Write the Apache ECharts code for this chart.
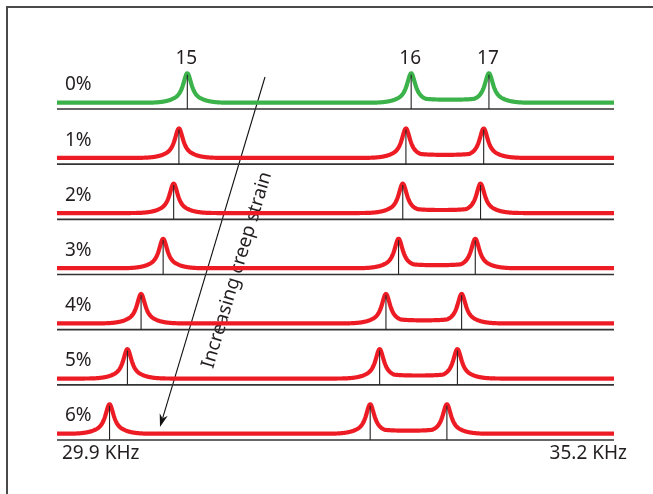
<!DOCTYPE html>
<html>
<head>
<meta charset="utf-8">
<script src="https://cdn.jsdelivr.net/npm/echarts@6/dist/echarts.min.js"></script>
<style>html,body{margin:0;padding:0;background:#fff;}#c{width:653px;height:494px;}</style>
</head>
<body>
<div id="c"></div>
<script>
// ---- data ----
const strainLabels = ['0%', '1%', '2%', '3%', '4%', '5%', '6%'];
const peak15 = [31.14, 31.06, 31.01, 30.91, 30.70, 30.57, 30.40];   // kHz
const peak16 = [33.27, 33.22, 33.19, 33.15, 33.03, 32.97, 32.88];
const peak17 = [34.01, 33.96, 33.93, 33.88, 33.75, 33.71, 33.61];
const modeLabels = ['15', '16', '17'];
const freqMin = 29.9, freqMax = 35.2;
const axisLabels = ['29.9 KHz', '35.2 KHz'];
const arrowText = 'Increasing creep strain';

const FONT = '19px "Noto Sans"';
const TXT = '#231f20';

function renderItem(params, api) {
  const row = api.value(0);
  const f = [api.value(1), api.value(2), api.value(3)];
  const L = api.coord([freqMin, row]);
  const R = api.coord([freqMax, row]);
  const by = L[1];
  const px = f.map(v => api.coord([v, row])[0]);
  const A = 28.5, g = 5.2, lift = 6.3, plat = 3;
  const sig = t => 1 / (1 + Math.exp(-t));
  const prof = d => g * g / (d * d + g * g) * Math.exp(-Math.pow(d / 30, 4));
  const pts = [];
  for (let x = L[0]; x <= R[0] + 0.01; x += 0.5) {
    let o = 0;
    for (const p of px) o += A * prof(x - p);
    o = Math.max(o, plat * sig((x - px[1] - 4) / 1.5) * sig((px[2] - 4 - x) / 1.5)) + 0.3 * Math.min(o, plat);
    pts.push([x, by - lift - o]);
  }
  const color = row === 0 ? '#3cb34a' : '#ed1c24';
  const children = [
    { type: 'line', shape: { x1: L[0], y1: by, x2: R[0], y2: by }, style: { stroke: '#333', lineWidth: 1.6 } },
    { type: 'polyline', shape: { points: pts, smooth: 0 }, style: { stroke: color, lineWidth: 4.2, fill: null, lineJoin: 'round', lineCap: 'butt' } }
  ];
  px.forEach(p => {
    children.push({ type: 'line', shape: { x1: p, y1: by, x2: p, y2: by - lift - A + 0.5 }, style: { stroke: '#222', lineWidth: 1.1 } });
  });
  children.push({ type: 'text', x: L[0] + 8, y: by - 24,
    style: { text: strainLabels[row], font: FONT, fill: TXT, align: 'left', verticalAlign: 'middle', textAlign: 'left', textVerticalAlign: 'middle' } });
  if (row === 0) {
    px.forEach((p, i) => children.push({ type: 'text', x: p - 1, y: by - 50,
      style: { text: modeLabels[i], font: FONT, fill: TXT, align: 'center', verticalAlign: 'middle', textAlign: 'center', textVerticalAlign: 'middle' } }));
  }
  if (row === strainLabels.length - 1) {
    children.push({ type: 'text', x: L[0] + 5, y: by + 14,
      style: { text: axisLabels[0], font: FONT, fill: TXT, align: 'left', verticalAlign: 'middle', textAlign: 'left', textVerticalAlign: 'middle' } });
    children.push({ type: 'text', x: R[0] + 13, y: by + 14,
      style: { text: axisLabels[1], font: FONT, fill: TXT, align: 'right', verticalAlign: 'middle', textAlign: 'right', textVerticalAlign: 'middle' } });
  }
  return { type: 'group', children };
}

// arrow annotation geometry
const a0 = [265, 77], a1 = [160, 427];
const dx = a1[0] - a0[0], dy = a1[1] - a0[1], len = Math.hypot(dx, dy);
const ux = dx / len, uy = dy / len, nx = -uy, ny = ux;
const hl = 13, hw = 4.2;
const head = [
  a1,
  [a1[0] - hl * ux + hw * nx, a1[1] - hl * uy + hw * ny],
  [a1[0] - 9 * ux, a1[1] - 9 * uy],
  [a1[0] - hl * ux - hw * nx, a1[1] - hl * uy - hw * ny]
];

const chart = echarts.init(document.getElementById('c'), null, { renderer: 'canvas' });
chart.setOption({
  animation: false,
  backgroundColor: '#fff',
  grid: { left: 57, right: 39, top: 109, bottom: 54 },
  xAxis: { type: 'value', min: freqMin, max: freqMax, show: false },
  yAxis: { type: 'value', min: 0, max: 6, inverse: true, show: false },
  series: [{
    type: 'custom',
    renderItem,
    clip: false,
    encode: { x: [1, 2, 3], y: 0 },
    data: strainLabels.map((s, i) => [i, peak15[i], peak16[i], peak17[i]])
  }],
  graphic: { elements: [
    { type: 'rect', shape: { x: 7, y: 7, width: 700, height: 600 }, style: { fill: null, stroke: '#4a4a4a', lineWidth: 2 }, silent: true },
    { type: 'line', shape: { x1: a0[0], y1: a0[1], x2: a1[0] - 9 * ux, y2: a1[1] - 9 * uy }, style: { stroke: '#111', lineWidth: 1.1 } },
    { type: 'polygon', shape: { points: head }, style: { fill: '#111' } },
    { type: 'text', x: 237, y: 270, rotation: Math.atan2(dy, -dx),
      style: { text: arrowText, font: FONT, fill: TXT, align: 'center', verticalAlign: 'middle' } }
  ] }
});
</script>
</body>
</html>
